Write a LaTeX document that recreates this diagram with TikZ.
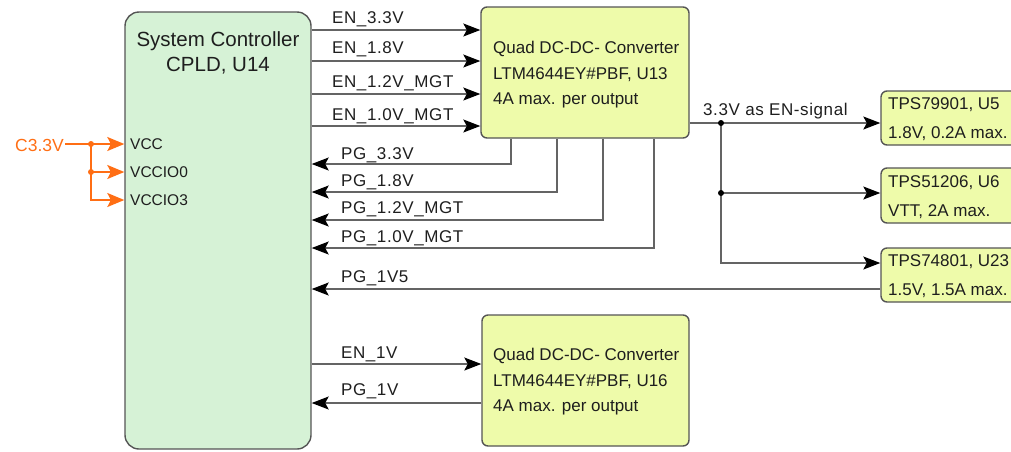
\documentclass[tikz,border=0pt]{standalone}
\usepackage{fontspec}
\setmainfont{Liberation Sans}
\newfontfamily\lblfont[LetterSpace=3.5]{Liberation Sans}
\usetikzlibrary{arrows.meta}
\definecolor{cpldfill}{RGB}{214,242,214}
\definecolor{convfill}{RGB}{238,251,170}
\definecolor{edgec}{RGB}{85,85,85}
\definecolor{wirec}{RGB}{100,100,100}
\definecolor{pwrc}{RGB}{255,110,20}
\definecolor{txtc}{RGB}{30,30,30}
\begin{document}
\begin{tikzpicture}[x=1pt,y=-1pt,
  cpldbox/.style={draw=edgec,line width=1.4pt,fill=cpldfill,rounded corners=14pt,inner sep=0pt},
  convbox/.style={draw=edgec,line width=1.4pt,fill=convfill,rounded corners=6pt,inner sep=0pt},
  lbl/.style={anchor=base west,inner sep=0pt,text=txtc,font=\lblfont\fontsize{17}{17}\selectfont},
  boxtxt/.style={anchor=base west,inner sep=0pt,text=txtc,font=\fontsize{17}{17}\selectfont},
  titletxt/.style={anchor=base,inner sep=0pt,text=txtc,font=\fontsize{20.5}{20.5}\selectfont},
  pintxt/.style={anchor=base west,inner sep=0pt,text=txtc,font=\fontsize{15.5}{15.5}\selectfont},
  pwrtxt/.style={anchor=base west,inner sep=1pt,text=pwrc,font=\fontsize{17.5}{17.5}\selectfont},
  plainwire/.style={draw=wirec,line width=1.3pt},
  wire/.style={plainwire,-{Stealth[length=17pt,width=13pt,inset=3.5pt,color=black]}},
  pwire/.style={draw=pwrc,line width=1.4pt},
  parr/.style={pwire,-{Stealth[length=17pt,width=14pt,inset=3.5pt]}},
  jdot/.style={circle,fill=black,inner sep=0pt,minimum size=6pt},
  pdot/.style={circle,fill=pwrc,inner sep=0pt,minimum size=6pt}
]
\useasboundingbox (0,0) rectangle (1011,451);
\clip (0,0) rectangle (1011,451);

% blocks
\node[cpldbox,minimum width=186pt,minimum height=437pt] (cpld) at (218,230.5) {};
\node[convbox,minimum width=208pt,minimum height=131pt] (u13) at (585,72.5) {};
\node[convbox,minimum width=207pt,minimum height=131pt] (u16) at (585.5,380.5) {};
\node[convbox,minimum width=170pt,minimum height=54pt] (u5) at (966,118) {};
\node[convbox,minimum width=170pt,minimum height=55pt] (u6) at (966,195.5) {};
\node[convbox,minimum width=170pt,minimum height=54pt] (u23) at (966,275) {};

% block texts
\node[titletxt] (t1) at (218,46.7) {System Controller};
\node[titletxt] (t2) at (218,71.7) {CPLD, U14};
\node[pintxt] (p1) at (130,149) {VCC};
\node[pintxt] (p2) at (130,177) {VCCIO0};
\node[pintxt] (p3) at (130,205) {VCCIO3};

\node[boxtxt] (a1) at (493,53.3) {Quad DC-DC- Converter};
\node[boxtxt] (a2) at (493,79) {LTM4644EY\#PBF, U13};
\node[boxtxt] (a3) at (493,104) {4A max. per output};
\node[boxtxt] (b1) at (493,360) {Quad DC-DC- Converter};
\node[boxtxt] (b2) at (493,386) {LTM4644EY\#PBF, U16};
\node[boxtxt] (b3) at (493,411) {4A max. per output};

\node[boxtxt] (c1) at (888,109.3) {TPS79901, U5};
\node[boxtxt] (c2) at (888,138.3) {1.8V, 0.2A max.};
\node[boxtxt] (d1) at (888,187.7) {TPS51206, U6};
\node[boxtxt] (d2) at (888,216) {VTT, 2A max.};
\node[boxtxt] (e1) at (888,266.7) {TPS74801, U23};
\node[boxtxt] (e2) at (888,295) {1.5V, 1.5A max.};

% helper coordinates
\coordinate (y1) at (0,30);
\coordinate (y2) at (0,61);
\coordinate (y3) at (0,94);
\coordinate (y4) at (0,126);
\coordinate (g1) at (0,164);
\coordinate (g2) at (0,192);
\coordinate (g3) at (0,220);
\coordinate (g4) at (0,248);
\coordinate (g5) at (0,289);
\coordinate (x1) at (511,0);
\coordinate (x2) at (557,0);
\coordinate (x3) at (603,0);
\coordinate (x4) at (654,0);
\coordinate (en1) at (0,364);
\coordinate (pg1) at (0,403);
\coordinate (o1) at (0,123);
\coordinate (j1) at (721,123);
\coordinate (j2) at (721,193);
\coordinate (o3) at (0,263);

% enable lines to U13
\draw[wire] (cpld.east |- y1) -- (u13.west |- y1);
\draw[wire] (cpld.east |- y2) -- (u13.west |- y2);
\draw[wire] (cpld.east |- y3) -- (u13.west |- y3);
\draw[wire] (cpld.east |- y4) -- (u13.west |- y4);
\node[lbl] (l1) at (332,23.5) {EN\_3.3V};
\node[lbl] (l2) at (332,53.5) {EN\_1.8V};
\node[lbl] (l3) at (332,87) {EN\_1.2V\_MGT};
\node[lbl] (l4) at (332,120.5) {EN\_1.0V\_MGT};

% power good lines from U13
\draw[wire] (u13.south -| x1) |- (cpld.east |- g1);
\draw[wire] (u13.south -| x2) |- (cpld.east |- g2);
\draw[wire] (u13.south -| x3) |- (cpld.east |- g3);
\draw[wire] (u13.south -| x4) |- (cpld.east |- g4);
\draw[wire] (u23.west |- g5) -- (cpld.east |- g5);
\node[lbl] (m1) at (341,159.3) {PG\_3.3V};
\node[lbl] (m2) at (341,186.7) {PG\_1.8V};
\node[lbl] (m3) at (341,213.3) {PG\_1.2V\_MGT};
\node[lbl] (m4) at (341,242.3) {PG\_1.0V\_MGT};
\node[lbl] (m5) at (341,282.7) {PG\_1V5};

% U16
\draw[wire] (cpld.east |- en1) -- (u16.west |- en1);
\draw[wire] (u16.west |- pg1) -- (cpld.east |- pg1);
\node[lbl] (n1) at (341,358.3) {EN\_1V};
\node[lbl] (n2) at (341,395) {PG\_1V};

% 3.3V enable distribution
\draw[wire] (u13.east |- o1) -- (u5.west |- o1);
\draw[wire] (j1) |- (u23.west |- o3);
\draw[wire] (j2) -- (u6.west |- j2);
\node[jdot] (dj1) at (j1) {};
\node[jdot] (dj2) at (j2) {};
\node[lbl] (s1) at (703,115) {3.3V as EN-signal};

% C3.3V supply
\node[pwrtxt] (c33) at (14,151) {C3.3V};
\coordinate (pa) at (91,144);
\coordinate (pb) at (91,172);
\coordinate (pc) at (0,200);
\draw[parr] (c33.east |- pa) -- (cpld.west |- pa);
\draw[parr] (pa) |- (cpld.west |- pc);
\draw[parr] (pb) -- (cpld.west |- pb);
\node[pdot] (dpa) at (pa) {};
\node[pdot] (dpb) at (pb) {};
\end{tikzpicture}
\end{document}
